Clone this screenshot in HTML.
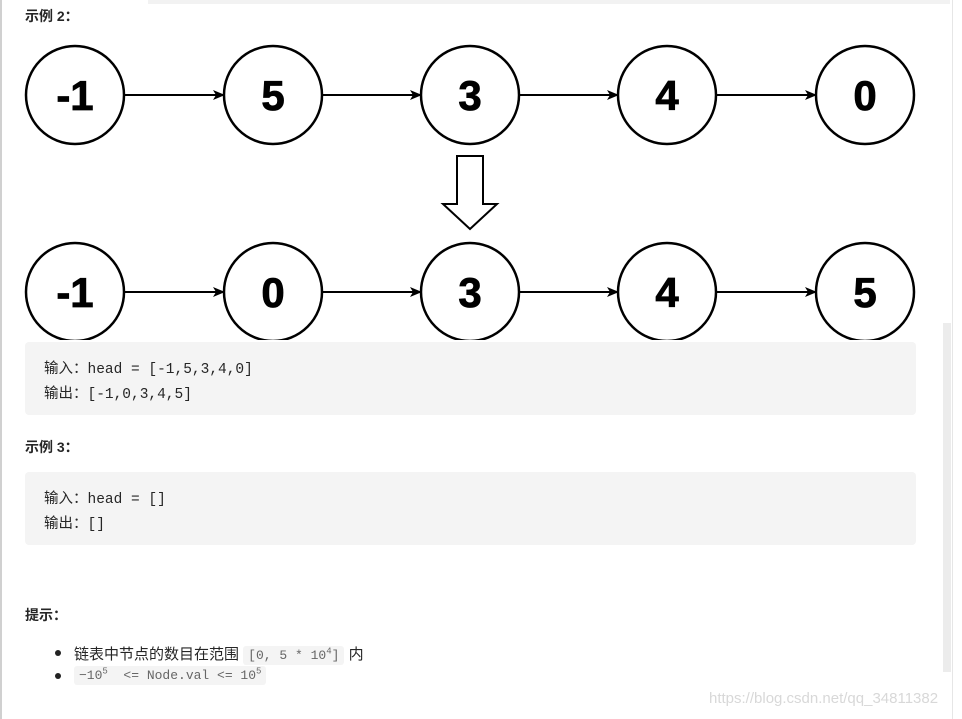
<!DOCTYPE html>
<html><head><meta charset="utf-8"><style>
body{margin:0;width:962px;height:719px;background:#fff;position:relative;overflow:hidden;font-family:"Liberation Sans","Noto Sans CJK SC",sans-serif;color:#262626}
.a{position:absolute}
.h{font-weight:bold;font-size:14px}
.code{position:absolute;left:25px;width:891px;background:#f4f4f4;border-radius:4px;font-family:"Liberation Mono","Noto Sans CJK SC",monospace;font-size:14.5px;color:#262626}
.code div{position:absolute;left:19px;white-space:pre}
.ic{background:#f4f4f4;border-radius:3px;font-family:"Liberation Mono",monospace;color:#666;font-size:13px;padding:2px 5px}
</style></head><body>
<div class="a" style="left:0;top:0;width:2px;height:719px;background:#d0d0d0"></div>
<div class="a" style="left:148px;top:0;width:802px;height:4px;background:#f2f2f2"></div>
<div class="a" style="left:952px;top:0;width:1px;height:719px;background:#e6e6e6"></div>
<div class="a" style="left:943px;top:323px;width:8px;height:349px;background:#ececec"></div>
<div class="a h" style="left:25px;top:6px">示例 2：</div>
<svg class="a" style="left:0;top:0" width="962" height="340">
<defs><marker id="m" markerWidth="12" markerHeight="10" refX="11" refY="5" orient="auto" markerUnits="userSpaceOnUse"><path d="M0,0 L12,5 L0,10 L3,5 z" fill="#000"/></marker></defs>
<g fill="#fff" stroke="#000" stroke-width="2.5">
<circle cx="75" cy="95" r="49"/><circle cx="273" cy="95" r="49"/><circle cx="470" cy="95" r="49"/><circle cx="667" cy="95" r="49"/><circle cx="865" cy="95" r="49"/>
<circle cx="75" cy="292" r="49"/><circle cx="273" cy="292" r="49"/><circle cx="470" cy="292" r="49"/><circle cx="667" cy="292" r="49"/><circle cx="865" cy="292" r="49"/>
<path d="M457,156 L483,156 L483,204 L497,204 L470,229 L443,204 L457,204 Z" stroke-width="2"/>
</g>
<g stroke="#000" stroke-width="2" marker-end="url(#m)">
<line x1="124" y1="95" x2="224" y2="95"/><line x1="322" y1="95" x2="421" y2="95"/><line x1="519" y1="95" x2="618" y2="95"/><line x1="716" y1="95" x2="816" y2="95"/>
<line x1="124" y1="292" x2="224" y2="292"/><line x1="322" y1="292" x2="421" y2="292"/><line x1="519" y1="292" x2="618" y2="292"/><line x1="716" y1="292" x2="816" y2="292"/>
</g>
<g font-family="Liberation Sans" font-weight="bold" font-size="42" text-anchor="middle" fill="#000" stroke="#000" stroke-width="0.8">
<text x="75" y="110">-1</text><text x="273" y="110">5</text><text x="470" y="110">3</text><text x="667" y="110">4</text><text x="865" y="110">0</text>
<text x="75" y="307">-1</text><text x="273" y="307">0</text><text x="470" y="307">3</text><text x="667" y="307">4</text><text x="865" y="307">5</text>
</g>
</svg>
<div class="code" style="top:342px;height:73px"><div style="top:15px">输入：head = [-1,5,3,4,0]</div><div style="top:40px">输出：[-1,0,3,4,5]</div></div>
<div class="a h" style="left:25px;top:437px">示例 3：</div>
<div class="code" style="top:472px;height:73px"><div style="top:15px">输入：head = []</div><div style="top:40px">输出：[]</div></div>
<div class="a h" style="left:25px;top:605px">提示：</div>
<div class="a" style="left:55px;top:650px;width:6px;height:6px;border-radius:3px;background:#222"></div>
<div class="a" style="left:55px;top:673px;width:6px;height:6px;border-radius:3px;background:#222"></div>
<div class="a" style="left:74px;top:643px;font-size:15px;white-space:nowrap">链表中节点的数目在范围 <span class="ic">[0, 5 * 10<sup style="font-size:9px">4</sup>]</span> 内</div>
<div class="a" style="left:74px;top:666px;font-size:15px;white-space:nowrap"><span class="ic">−10<sup style="font-size:9px">5</sup>&nbsp; &lt;= Node.val &lt;= 10<sup style="font-size:9px">5</sup></span></div>
<div class="a" style="left:709px;top:690px;font-size:15px;color:#d8d8d8">https://blog.csdn.net/qq_34811382</div>
</body></html>
